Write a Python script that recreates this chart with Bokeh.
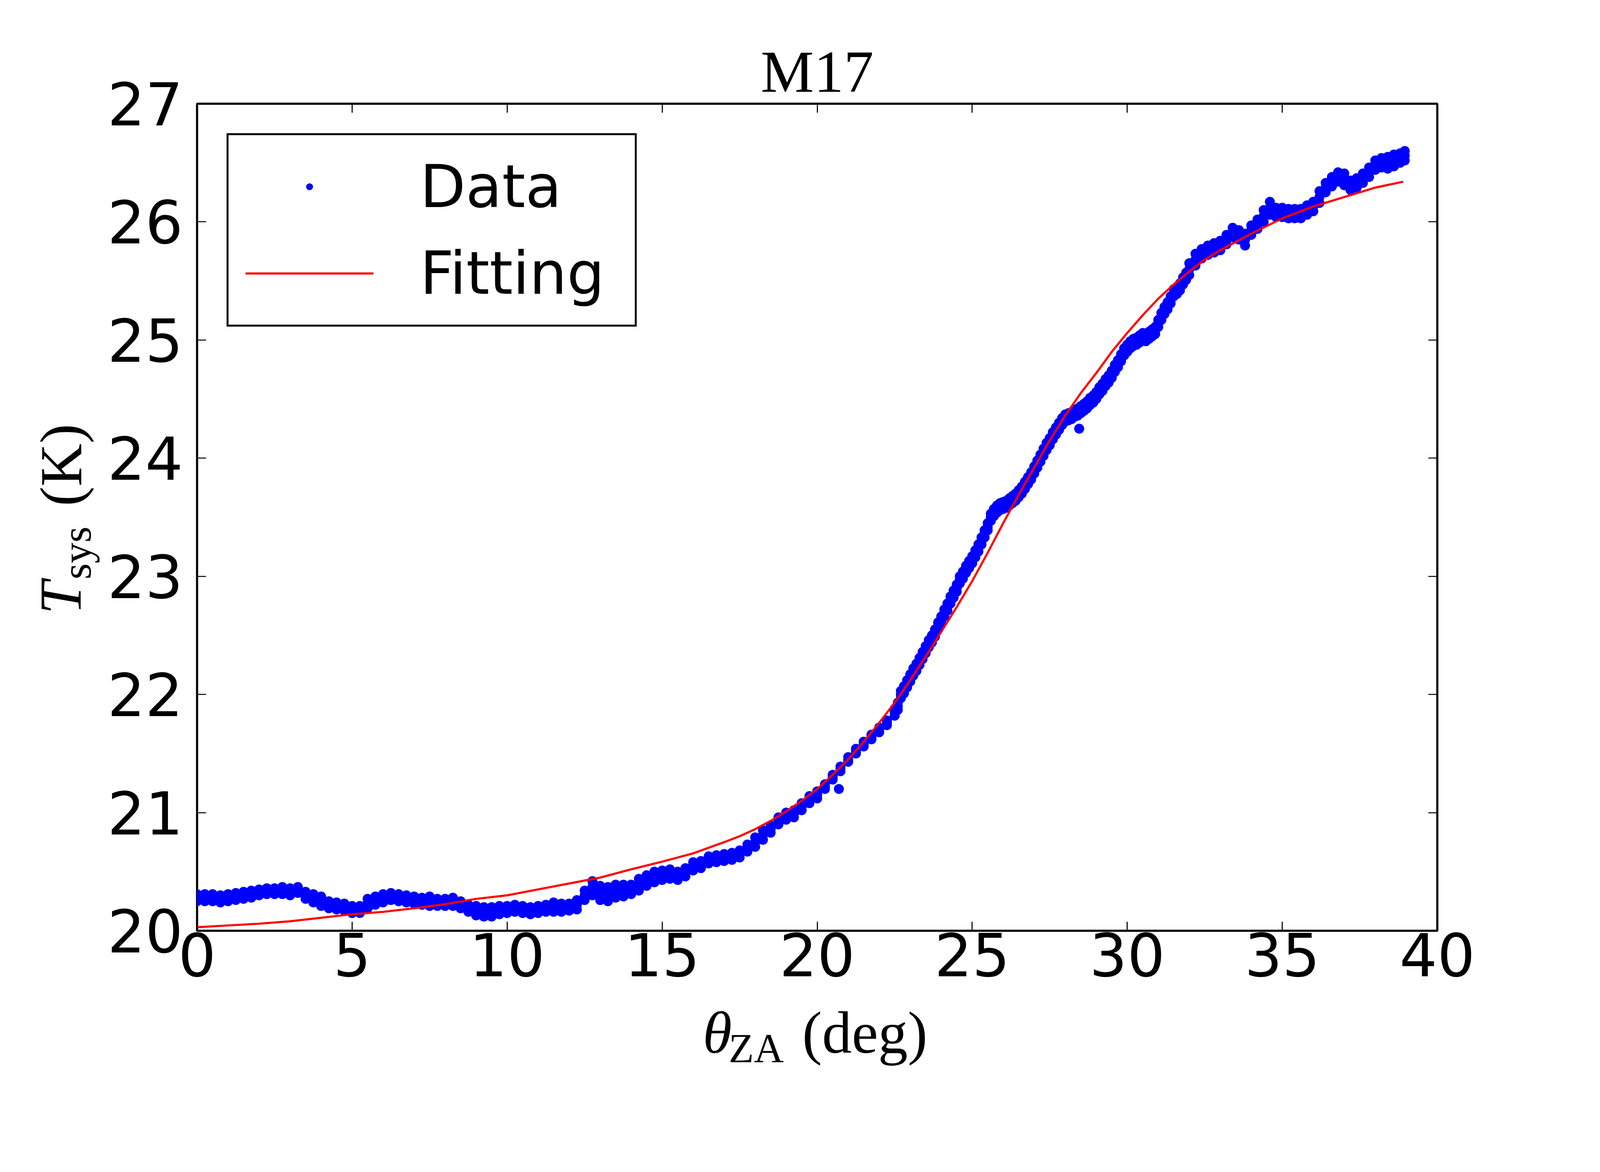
import math
from bokeh.plotting import figure
from bokeh.models import Label, LinearAxis, FixedTicker, Range1d
from bokeh.embed import file_html
from bokeh.resources import INLINE

# ---------------- data ----------------
# region A (0 - 22.25 deg): upper edge, centre and lower edge of the scatter band
theta_a = [0.0, 0.25, 0.5, 0.75, 1.0, 1.25, 1.5, 1.75, 2.0, 2.25,
           2.5, 2.75, 3.0, 3.25, 3.5, 3.75, 4.0, 4.25, 4.5, 4.75,
           5.0, 5.25, 5.5, 5.75, 6.0, 6.25, 6.5, 6.75, 7.0, 7.25,
           7.5, 7.75, 8.0, 8.25, 8.5, 8.75, 9.0, 9.25, 9.5, 9.75,
           10.0, 10.25, 10.5, 10.75, 11.0, 11.25, 11.5, 11.75, 12.0, 12.25,
           12.5, 12.75, 13.0, 13.25, 13.5, 13.75, 14.0, 14.25, 14.5, 14.75,
           15.0, 15.25, 15.5, 15.75, 16.0, 16.25, 16.5, 16.75, 17.0, 17.25,
           17.5, 17.75, 18.0, 18.25, 18.5, 18.75, 19.0, 19.25, 19.5, 19.75,
           20.0, 20.25, 20.5, 20.75, 21.0, 21.25, 21.5, 21.75, 22.0, 22.25]
tsys_a_hi = [20.31, 20.31, 20.31, 20.30, 20.31, 20.32, 20.33, 20.34, 20.35, 20.36,
             20.36, 20.37, 20.36, 20.37, 20.33, 20.31, 20.29, 20.25, 20.24, 20.23,
             20.21, 20.21, 20.27, 20.29, 20.31, 20.32, 20.31, 20.30, 20.29, 20.28,
             20.29, 20.27, 20.27, 20.28, 20.25, 20.22, 20.21, 20.20, 20.20, 20.21,
             20.21, 20.22, 20.21, 20.20, 20.21, 20.22, 20.24, 20.23, 20.23, 20.26,
             20.34, 20.42, 20.38, 20.37, 20.39, 20.39, 20.39, 20.44, 20.47, 20.50,
             20.51, 20.52, 20.50, 20.53, 20.58, 20.59, 20.63, 20.64, 20.65, 20.66,
             20.68, 20.73, 20.79, 20.85, 20.89, 20.96, 21.00, 21.02, 21.08, 21.14,
             21.18, 21.24, 21.32, 21.39, 21.47, 21.54, 21.60, 21.66, 21.72, 21.78]
tsys_a_mid = [20.28, 20.28, 20.28, 20.27, 20.28, 20.29, 20.30, 20.31, 20.33, 20.34,
              20.34, 20.34, 20.33, 20.35, 20.30, 20.27, 20.25, 20.22, 20.21, 20.20,
              20.18, 20.18, 20.23, 20.25, 20.27, 20.29, 20.28, 20.27, 20.26, 20.25,
              20.25, 20.24, 20.24, 20.24, 20.22, 20.19, 20.17, 20.16, 20.16, 20.17,
              20.18, 20.19, 20.18, 20.17, 20.18, 20.19, 20.20, 20.20, 20.20, 20.22,
              20.30, 20.37, 20.33, 20.31, 20.33, 20.34, 20.35, 20.39, 20.43, 20.46,
              20.47, 20.48, 20.46, 20.50, 20.55, 20.56, 20.60, 20.61, 20.62, 20.63,
              20.65, 20.70, 20.75, 20.81, 20.86, 20.93, 20.97, 20.99, 21.05, 21.11,
              21.15, 21.22, 21.30, 21.37, 21.45, 21.52, 21.58, 21.64, 21.70, 21.76]
tsys_a_lo = [20.25, 20.25, 20.25, 20.24, 20.25, 20.26, 20.27, 20.28, 20.30, 20.31,
             20.31, 20.31, 20.30, 20.32, 20.27, 20.24, 20.21, 20.19, 20.18, 20.17,
             20.15, 20.15, 20.19, 20.22, 20.24, 20.26, 20.25, 20.24, 20.23, 20.22,
             20.21, 20.21, 20.21, 20.21, 20.19, 20.16, 20.13, 20.12, 20.12, 20.14,
             20.15, 20.16, 20.15, 20.14, 20.15, 20.16, 20.16, 20.16, 20.17, 20.18,
             20.26, 20.30, 20.26, 20.25, 20.28, 20.29, 20.31, 20.34, 20.38, 20.41,
             20.43, 20.44, 20.43, 20.46, 20.51, 20.53, 20.57, 20.58, 20.59, 20.60,
             20.62, 20.67, 20.71, 20.77, 20.83, 20.90, 20.94, 20.96, 21.02, 21.08,
             21.12, 21.20, 21.28, 21.35, 21.43, 21.50, 21.56, 21.62, 21.68, 21.74]

# region B (22.5 - 31.9 deg): steep part, upper edge, centre and lower edge
theta_b = [22.5, 22.6, 22.7, 22.8, 22.9,
           23.0, 23.1, 23.2, 23.3, 23.4, 23.5, 23.6, 23.7, 23.8, 23.9,
           24.0, 24.1, 24.2, 24.3, 24.4, 24.5, 24.6, 24.7, 24.8, 24.9,
           25.0, 25.1, 25.2, 25.3, 25.4, 25.5, 25.6, 25.7, 25.8, 25.9,
           26.0, 26.1, 26.2, 26.3, 26.4, 26.5, 26.6, 26.7, 26.8, 26.9,
           27.0, 27.1, 27.2, 27.3, 27.4, 27.5, 27.6, 27.7, 27.8, 27.9,
           28.0, 28.1, 28.2, 28.3, 28.4, 28.5, 28.6, 28.7, 28.8, 28.9,
           29.0, 29.1, 29.2, 29.3, 29.4, 29.5, 29.6, 29.7, 29.8, 29.9,
           30.0, 30.1, 30.2, 30.3, 30.4, 30.5, 30.6, 30.7, 30.8, 30.9,
           31.0, 31.1, 31.2, 31.3, 31.4, 31.5, 31.6, 31.7, 31.8, 31.9]
tsys_b_hi = [21.88, 21.93, 22.03, 22.07, 22.12,
             22.17, 22.22, 22.26, 22.31, 22.36, 22.41, 22.46, 22.50, 22.55, 22.61,
             22.66, 22.72, 22.77, 22.83, 22.88, 22.93, 23.00, 23.04, 23.09, 23.13,
             23.17, 23.22, 23.27, 23.33, 23.39, 23.45, 23.53, 23.57, 23.60, 23.62,
             23.63, 23.64, 23.66, 23.68, 23.70, 23.73, 23.76, 23.80, 23.84, 23.88,
             23.93, 23.98, 24.03, 24.08, 24.13, 24.17, 24.22, 24.26, 24.30, 24.34,
             24.37, 24.38, 24.39, 24.41, 24.42, 24.44, 24.46, 24.48, 24.51, 24.53,
             24.56, 24.60, 24.63, 24.67, 24.70, 24.74, 24.79, 24.83, 24.88, 24.93,
             24.96, 24.99, 25.01, 25.02, 25.04, 25.06, 25.05, 25.07, 25.09, 25.11,
             25.17, 25.23, 25.28, 25.32, 25.37, 25.43, 25.45, 25.48, 25.53, 25.57]
tsys_b = [21.85, 21.90, 22.00, 22.04, 22.09,
          22.14, 22.19, 22.23, 22.28, 22.33, 22.38, 22.43, 22.47, 22.52, 22.58,
          22.63, 22.69, 22.74, 22.80, 22.85, 22.90, 22.97, 23.01, 23.06, 23.10,
          23.14, 23.19, 23.24, 23.30, 23.36, 23.42, 23.50, 23.54, 23.57, 23.59,
          23.60, 23.61, 23.63, 23.65, 23.67, 23.70, 23.73, 23.77, 23.81, 23.85,
          23.90, 23.95, 24.00, 24.05, 24.10, 24.14, 24.19, 24.23, 24.27, 24.31,
          24.34, 24.35, 24.36, 24.38, 24.39, 24.41, 24.43, 24.45, 24.48, 24.50,
          24.53, 24.57, 24.60, 24.64, 24.67, 24.71, 24.76, 24.80, 24.85, 24.90,
          24.93, 24.96, 24.98, 24.99, 25.01, 25.03, 25.02, 25.04, 25.06, 25.08,
          25.14, 25.20, 25.25, 25.29, 25.34, 25.40, 25.42, 25.45, 25.50, 25.54]
tsys_b_lo = [21.82, 21.87, 21.97, 22.01, 22.06,
             22.11, 22.16, 22.20, 22.25, 22.30, 22.35, 22.40, 22.44, 22.49, 22.55,
             22.60, 22.66, 22.71, 22.77, 22.82, 22.87, 22.94, 22.98, 23.03, 23.07,
             23.11, 23.16, 23.21, 23.27, 23.33, 23.39, 23.47, 23.51, 23.54, 23.56,
             23.57, 23.58, 23.60, 23.62, 23.64, 23.67, 23.70, 23.74, 23.78, 23.82,
             23.87, 23.92, 23.97, 24.02, 24.07, 24.11, 24.16, 24.20, 24.24, 24.28,
             24.31, 24.32, 24.33, 24.35, 24.36, 24.38, 24.40, 24.42, 24.45, 24.47,
             24.50, 24.54, 24.57, 24.61, 24.64, 24.68, 24.73, 24.77, 24.82, 24.87,
             24.90, 24.93, 24.95, 24.96, 24.98, 25.00, 24.99, 25.01, 25.03, 25.05,
             25.11, 25.17, 25.22, 25.26, 25.31, 25.37, 25.39, 25.42, 25.47, 25.51]

# region C (32 - 38.95 deg): upper edge, centre and lower edge of the band
theta_c = [32.0, 32.2, 32.4, 32.6, 32.8, 33.0, 33.2, 33.4, 33.6, 33.8,
           34.0, 34.2, 34.4, 34.6, 34.8, 35.0, 35.2, 35.4, 35.6, 35.8,
           36.0, 36.2, 36.4, 36.6, 36.8, 37.0, 37.2, 37.4, 37.6, 37.8,
           38.0, 38.2, 38.4, 38.6, 38.8, 38.95]
tsys_c_hi = [25.65, 25.73, 25.77, 25.80, 25.82, 25.84, 25.89, 25.95, 25.93, 25.90,
             25.97, 26.02, 26.10, 26.17, 26.12, 26.12, 26.11, 26.11, 26.11, 26.14,
             26.17, 26.26, 26.33, 26.38, 26.42, 26.41, 26.35, 26.37, 26.41, 26.46,
             26.52, 26.54, 26.55, 26.57, 26.58, 26.60]
tsys_c_mid = [25.60, 25.68, 25.73, 25.76, 25.78, 25.80, 25.85, 25.91, 25.89, 25.85,
              25.93, 25.98, 26.05, 26.12, 26.08, 26.08, 26.07, 26.07, 26.07, 26.10,
              26.13, 26.21, 26.29, 26.34, 26.38, 26.36, 26.31, 26.33, 26.37, 26.42,
              26.48, 26.50, 26.50, 26.52, 26.54, 26.56]
tsys_c_lo = [25.55, 25.63, 25.69, 25.72, 25.74, 25.76, 25.81, 25.87, 25.85, 25.80,
             25.89, 25.94, 26.00, 26.06, 26.04, 26.04, 26.03, 26.03, 26.03, 26.06,
             26.09, 26.16, 26.25, 26.30, 26.34, 26.31, 26.27, 26.29, 26.33, 26.38,
             26.44, 26.46, 26.45, 26.47, 26.50, 26.52]

# isolated outlying points
theta_out = [20.7, 28.45]
tsys_out = [21.20, 24.25]

# fitted curve
theta_fit = [0, 1, 2, 3, 4, 5, 6, 7, 8, 9, 10, 11, 12, 13, 14, 15, 16, 17, 17.5,
             18, 18.5, 19, 19.5, 20, 20.5, 21, 21.5, 22, 22.5, 23, 23.5, 24, 24.5,
             25, 25.5, 26, 26.5, 27, 27.5, 28, 28.5, 29, 29.5, 30, 30.5, 31, 31.5,
             32, 32.5, 33, 34, 35, 36, 37, 38, 38.9]
tsys_fit = [20.03, 20.045, 20.06, 20.08, 20.11, 20.14, 20.16, 20.19, 20.225, 20.27,
            20.30, 20.35, 20.40, 20.45, 20.52, 20.585, 20.655, 20.75, 20.80,
            20.86, 20.93, 21.01, 21.10, 21.20, 21.32, 21.45, 21.60, 21.76, 21.93,
            22.12, 22.32, 22.53, 22.74, 22.96, 23.20, 23.45, 23.69, 23.92, 24.15,
            24.36, 24.55, 24.72, 24.90, 25.06, 25.21, 25.35, 25.47, 25.58, 25.68,
            25.76, 25.90, 26.03, 26.13, 26.21, 26.29, 26.34]

x_ticks = [0, 5, 10, 15, 20, 25, 30, 35, 40]
y_ticks = [20, 21, 22, 23, 24, 25, 26, 27]
title_text = "M17"

# ---------------- geometry ----------------
# the visible page area is ~4096 px wide, so the 4500 px reference is
# reproduced at a uniform scale K
K = 4096 / 4500
X0, X1, Y0, Y1 = 0, 40, 20, 27
# frame of the reference (reference pixels)
RFL, RFT, RFW, RFH = 563, 300, 3488, 2326


def px_x(X):
    return X0 + (X - RFL) / RFW * (X1 - X0)


def px_y(Y):
    return Y0 + (RFT + RFH - Y) / RFH * (Y1 - Y0)


def fs(v):
    return "%dpx" % round(v * K)


p = figure(frame_width=round(RFW * K), frame_height=round(RFH * K),
           min_border_left=round(RFL * K - 8), min_border_top=round(RFT * K - 8),
           min_border_right=400, min_border_bottom=398,
           x_range=Range1d(X0, X1), y_range=Range1d(Y0, Y1),
           output_backend="svg", toolbar_location=None)
p.background_fill_color = "white"
p.border_fill_color = "white"
p.xgrid.visible = False
p.ygrid.visible = False
p.outline_line_color = "black"
p.outline_line_width = 6 * K
p.outline_line_alpha = 1.0


def style_axis(ax, ticks, labels):
    ax.ticker = FixedTicker(ticks=ticks)
    ax.axis_line_color = None
    ax.major_tick_in = round(25 * K)
    ax.major_tick_out = 0
    ax.major_tick_line_width = 3 * K
    ax.major_tick_line_color = "black"
    ax.minor_tick_line_color = None
    ax.axis_label = None
    ax.major_label_text_font = "DejaVu Sans"
    ax.major_label_text_font_size = fs(167)
    ax.major_label_text_color = "black" if labels else None


style_axis(p.xaxis[0], x_ticks, True)
p.xaxis[0].major_label_standoff = 5
style_axis(p.yaxis[0], y_ticks, True)
p.yaxis[0].major_label_standoff = 36

top_ax = LinearAxis()
style_axis(top_ax, x_ticks, False)
p.add_layout(top_ax, "above")
right_ax = LinearAxis()
style_axis(right_ax, y_ticks, False)
p.add_layout(right_ax, "right")

# ---------------- glyphs ----------------
theta_data = theta_a * 3 + theta_b * 3 + theta_c * 3 + theta_out
tsys_data = (tsys_a_hi + tsys_a_mid + tsys_a_lo
             + tsys_b_hi + tsys_b + tsys_b_lo
             + tsys_c_hi + tsys_c_mid + tsys_c_lo + tsys_out)

p.scatter(theta_data, tsys_data, size=28 * K, marker="circle",
          fill_color="#0000ff", line_color="#0000ff", line_width=0)
# the same points as tiny dots: this renderer gives the small legend sample
p.scatter(theta_data, tsys_data, marker="dot", size=4,
          fill_color="#0000ff", line_color="#0000ff", line_width=10,
          legend_label="Data")
p.line(theta_fit, tsys_fit, line_color="#ff0000", line_width=6 * K,
       legend_label="Fitting")

lg = p.legend[0]
lg.location = "top_left"
lg.margin = round(84 * K)
lg.padding = 43
lg.spacing = round(49 * K)
lg.glyph_width = round(369 * K) - 8
lg.glyph_height = 177
lg.label_standoff = round(131 * K)
lg.label_width = round(566 * K) - 8
lg.label_text_font = "DejaVu Sans"
lg.label_text_font_size = fs(167)
lg.label_text_color = "black"
lg.border_line_color = "black"
lg.border_line_alpha = 1.0
lg.border_line_width = 6 * K
lg.background_fill_color = "white"
lg.background_fill_alpha = 1.0

# ---------------- texts (placed in a side panel so they are not clipped) ----
SERIF = "Liberation Serif"
MID = 0.33   # distance baseline -> text middle, in em


def add_text(text, X, Y, size, italic=False, align="left", rotated=False):
    # X, Y: baseline start in reference pixels; anchor at the text middle
    if rotated:
        X = X - MID * size
    else:
        Y = Y - MID * size
    lab = Label(x=px_x(X), y=px_y(Y), text=text,
                angle=math.pi / 2 if rotated else 0.0,
                text_font=SERIF, text_font_size=fs(size),
                text_font_style="italic" if italic else "normal",
                text_align=align, text_baseline="middle",
                text_color="black")
    p.add_layout(lab, "right")


add_text(title_text, RFL + RFW / 2, 265, 168, align="center")

# x axis label: theta_ZA (deg)
add_text("\u03b8", 1985, 2968, 167, italic=True)
add_text("ZA", 2058, 2995, 117)
add_text("(deg)", 2265, 2968, 167)

# y axis label: T_sys (K), rotated
add_text("T", 235, 1736, 167, italic=True, rotated=True)
add_text("sys", 263, 1638, 117, rotated=True)
add_text("(K)", 236, 1432, 167, rotated=True)

open("out.html", "w").write(file_html(p, INLINE))
